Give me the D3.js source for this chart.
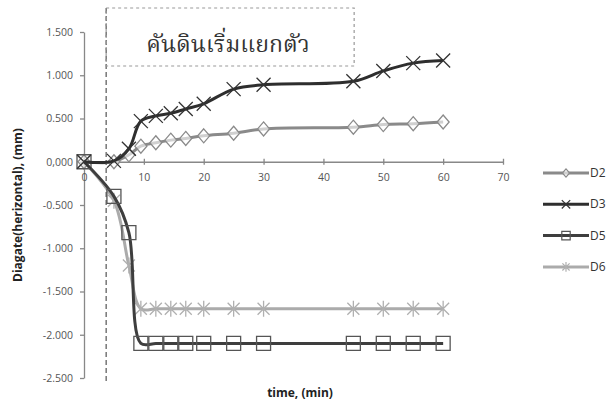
<!DOCTYPE html>
<meta charset="utf-8">
<script src="https://d3js.org/d3.v7.min.js"></script>
<style>
body { margin: 0; background: #fff; }
text { font-family: "Open Sans", "Liberation Sans", sans-serif; fill: #333; }
.tick text { font-size: 10.5px; fill: #555; }
.axis path, .axis line { stroke: #888; stroke-width: 1.3; }
</style>
<div id="chart"></div>
<script>
// time (min)
var times = [0, 5, 7.5, 9.5, 12, 14.5, 17, 20, 25, 30, 45, 50, 55, 60];
var valD2 = [0, 0.00, 0.08, 0.18, 0.22, 0.25, 0.27, 0.30, 0.33, 0.38, 0.40, 0.43, 0.44, 0.46];
var valD3 = [0, 0.01, 0.15, 0.47, 0.53, 0.56, 0.61, 0.67, 0.84, 0.89, 0.93, 1.05, 1.14, 1.17];
var valD5 = [0, -0.40, -0.82, -2.10, -2.10, -2.10, -2.10, -2.10, -2.10, -2.10, -2.10, -2.10, -2.10, -2.10];
var valD6 = [0, -0.45, -1.20, -1.70, -1.70, -1.70, -1.70, -1.70, -1.70, -1.70, -1.70, -1.70, -1.70, -1.70];
var xTicks = [0, 10, 20, 30, 40, 50, 60, 70];
var yTicks = [1.5, 1, 0.5, 0, -0.5, -1, -1.5, -2, -2.5];
var seriesNames = ["D2", "D3", "D5", "D6"];
var markerTime = 3.7;   // dashed line
var note = "คันดินเริ่มแยกตัว";

var width = 606, height = 403;

var svg = d3.select("#chart").append("svg")
  .attr("width", width)
  .attr("height", height);

var x = d3.scaleLinear().domain([0, 70]).range([84, 503]);
var y = d3.scaleLinear().domain([-2.5, 1.5]).range([378, 32]);

// y axis
svg.append("g")
  .attr("class", "axis")
  .attr("transform", "translate(" + x(0) + ",0)")
  .call(d3.axisLeft(y).tickValues(yTicks).tickSize(4).tickSizeOuter(0)
    .tickFormat(function(d) {
      var s = d3.format(".3f")(d).replace("−", "-");
      return d === 0 ? s.replace(".", ",") : s;
    }))
  .call(function(g) { g.selectAll(".tick text").attr("x", -11); });

// x axis through zero
svg.append("g")
  .attr("class", "axis")
  .attr("transform", "translate(0," + y(0) + ")")
  .call(d3.axisBottom(x).tickValues(xTicks).tickSize(3).tickSizeOuter(0))
  .call(function(g) {
    g.selectAll(".tick line").attr("y1", -3);
    g.selectAll(".tick text").attr("y", 12);
  });

// dashed vertical line + note box
svg.append("line")
  .attr("x1", x(markerTime)).attr("x2", x(markerTime))
  .attr("y1", 8).attr("y2", 384)
  .attr("stroke", "#555").attr("stroke-width", 1.2)
  .attr("stroke-dasharray", "5,3");

svg.append("rect")
  .attr("x", x(markerTime)).attr("y", 8)
  .attr("width", 248).attr("height", 58)
  .attr("fill", "none")
  .attr("stroke", "#999").attr("stroke-width", 1.2)
  .attr("stroke-dasharray", "3,3");

svg.append("text")
  .attr("x", 228).attr("y", 52)
  .attr("text-anchor", "middle")
  .style("font-family", "'Noto Serif Thai', 'Noto Sans Thai', Loma, Garuda, 'Tlwg Typo', serif")
  .style("font-size", "23px")
  .style("fill", "#333")
  .text(note);

// axis titles
svg.append("text")
  .attr("transform", "translate(22,205) rotate(-90)")
  .attr("text-anchor", "middle")
  .style("font-size", "12px").style("font-weight", "bold").style("fill", "#222")
  .text("Diagate(herizontal), (mm)");

svg.append("text")
  .attr("x", 300).attr("y", 397)
  .attr("text-anchor", "middle")
  .style("font-size", "12px").style("font-weight", "bold").style("fill", "#222")
  .text("time, (min)");

// markers
var diamond = function(g) {
  g.append("path").attr("d", "M0,-7L6,0L0,7L-6,0Z").attr("fill", "#fff").attr("fill-opacity", 0.6);
};
var cross = function(g) {
  g.append("path").attr("d", "M-7,-7L7,7M-7,7L7,-7");
};
var square = function(g) {
  g.append("path").attr("d", "M-7,-7H7V7H-7Z").attr("fill", "none");
};
var star = function(g) {
  g.append("path").attr("d", "M-6,-6L6,6M-6,6L6,-6M0,-8V8");
};

var series = [
  { name: seriesNames[0], values: valD2, color: "#8a8a8a", mark: diamond, mcolor: "#8a8a8a" },
  { name: seriesNames[1], values: valD3, color: "#2e2e2e", mark: cross, mcolor: "#333" },
  { name: seriesNames[2], values: valD5, color: "#3e3e3e", mark: square, mcolor: "#555" },
  { name: seriesNames[3], values: valD6, color: "#ababab", mark: star, mcolor: "#b0b0b0" }
];

var line = d3.line()
  .x(function(d) { return x(d[0]); })
  .y(function(d) { return y(d[1]); })
  .curve(d3.curveCatmullRom.alpha(0.5));

// draw order: D6 and D2 below the darker ones
[3, 0, 2, 1].forEach(function(i) {
  var s = series[i];
  var pts = times.map(function(t, j) { return [t, s.values[j]]; });
  svg.append("path")
    .datum(pts)
    .attr("d", line)
    .attr("fill", "none")
    .attr("stroke", s.color)
    .attr("stroke-width", 3);

  svg.append("g").selectAll("g")
    .data(pts)
    .enter().append("g")
      .attr("transform", function(d) { return "translate(" + x(d[0]) + "," + y(d[1]) + ")"; })
      .attr("stroke", s.mcolor)
      .attr("stroke-width", 1.3)
      .each(function() { s.mark(d3.select(this)); });
});

// legend
var legend = svg.append("g").selectAll("g")
  .data(series)
  .enter().append("g")
    .attr("transform", function(d, i) { return "translate(0," + (173 + i * 31.3) + ")"; });

legend.append("line")
  .attr("x1", 543).attr("x2", 589)
  .attr("stroke", function(d) { return d.color; })
  .attr("stroke-width", 3);

legend.append("g")
  .attr("transform", "translate(566,0) scale(0.6)")
  .attr("stroke", function(d) { return d.mcolor; })
  .attr("stroke-width", 2)
  .each(function(d) { d.mark(d3.select(this)); });

legend.append("text")
  .attr("x", 590).attr("y", 4)
  .style("font-size", "12px")
  .style("fill", "#333")
  .text(function(d) { return d.name; });
</script>
